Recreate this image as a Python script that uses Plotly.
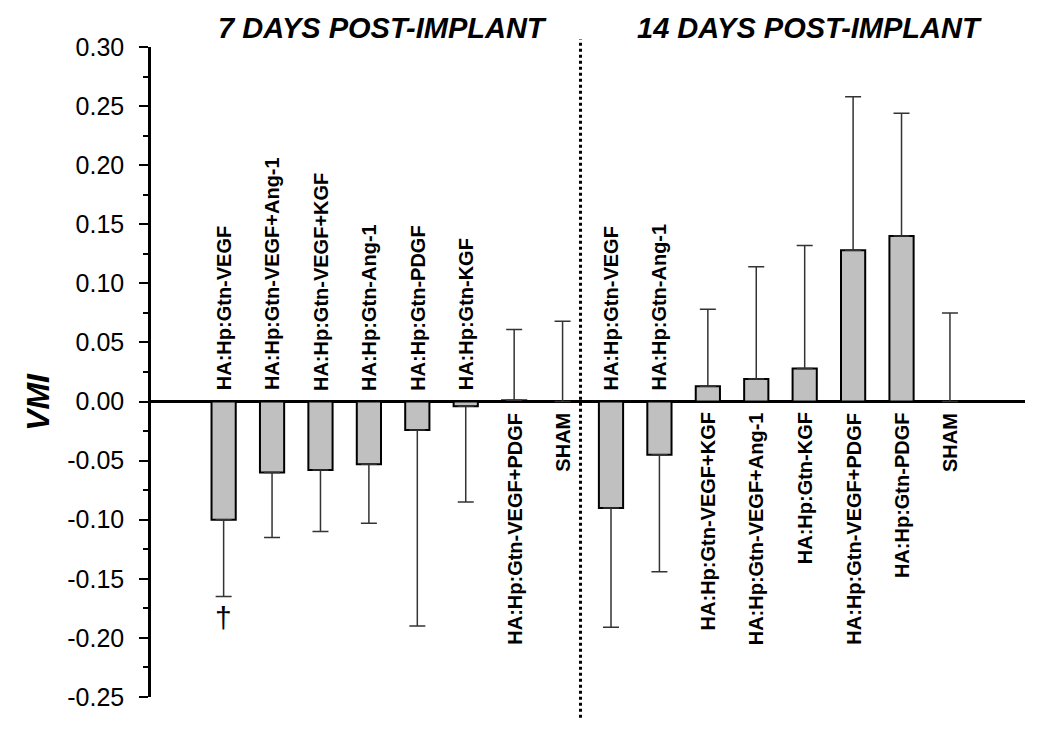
import plotly.graph_objects as go

# ---- data ----
categories_7 = ["HA:Hp:Gtn-VEGF", "HA:Hp:Gtn-VEGF+Ang-1", "HA:Hp:Gtn-VEGF+KGF", "HA:Hp:Gtn-Ang-1",
                "HA:Hp:Gtn-PDGF", "HA:Hp:Gtn-KGF", "HA:Hp:Gtn-VEGF+PDGF", "SHAM"]
values_7 = [-0.100, -0.060, -0.058, -0.053, -0.024, -0.004, 0.001, 0.0]
errors_7 = [0.065, 0.055, 0.052, 0.050, 0.166, 0.081, 0.060, 0.068]

categories_14 = ["HA:Hp:Gtn-VEGF", "HA:Hp:Gtn-Ang-1", "HA:Hp:Gtn-VEGF+KGF", "HA:Hp:Gtn-VEGF+Ang-1",
                 "HA:Hp:Gtn-KGF", "HA:Hp:Gtn-VEGF+PDGF", "HA:Hp:Gtn-PDGF", "SHAM"]
values_14 = [-0.090, -0.045, 0.013, 0.019, 0.028, 0.128, 0.140, 0.0]
errors_14 = [0.101, 0.099, 0.065, 0.095, 0.104, 0.130, 0.104, 0.075]

tick_values = [0.30, 0.25, 0.20, 0.15, 0.10, 0.05, 0.00, -0.05, -0.10, -0.15, -0.20, -0.25]
tick_labels = ["0.30", "0.25", "0.20", "0.15", "0.10", "0.05", "0.00",
               "-0.05", "-0.10", "-0.15", "-0.20", "-0.25"]
panel_titles = ["7 DAYS POST-IMPLANT", "14 DAYS POST-IMPLANT"]
significance_mark = "\u2020"

# ---- build ----
categories = categories_7 + categories_14
values = values_7 + values_14
errors = errors_7 + errors_14
xpos = list(range(len(values)))

err_plus = [e if v >= 0 else 0 for v, e in zip(values, errors)]
err_minus = [e if v < 0 else 0 for v, e in zip(values, errors)]

FONT = "Arial, Liberation Sans, Helvetica, sans-serif"

fig = go.Figure()
fig.add_trace(go.Bar(
    x=xpos, y=values, width=0.5,
    marker=dict(color="#c0c0c0", line=dict(color="black", width=2)),
    error_y=dict(type="data", symmetric=False, array=err_plus, arrayminus=err_minus,
                 color="#333333", thickness=1.5, width=8),
    showlegend=False, hoverinfo="skip",
))

annotations = []
for x, v, name in zip(xpos, values, categories):
    if v < 0:
        annotations.append(dict(x=x, y=0, xref="x", yref="y", text=name, textangle=-90,
                                showarrow=False, xanchor="center", yanchor="bottom", yshift=9,
                                font=dict(family=FONT, size=20, color="black", weight="bold")))
    else:
        annotations.append(dict(x=x, y=0, xref="x", yref="y", text=name, textangle=-90,
                                showarrow=False, xanchor="center", yanchor="top", yshift=-9,
                                font=dict(family=FONT, size=20, color="black", weight="bold")))

# dagger under first bar's error bar
annotations.append(dict(x=xpos[0], y=values[0] - errors[0], xref="x", yref="y",
                        text=significance_mark, showarrow=False, yanchor="top", yshift=-2,
                        font=dict(family=FONT, size=30, color="black")))

# panel titles
annotations.append(dict(x=0.2654, y=1.029, xref="paper", yref="paper", text="<i><b>%s</b></i>" % panel_titles[0],
                        showarrow=False, xanchor="center", yanchor="middle",
                        font=dict(family=FONT, size=29, color="black")))
annotations.append(dict(x=0.754, y=1.029, xref="paper", yref="paper", text="<i><b>%s</b></i>" % panel_titles[1],
                        showarrow=False, xanchor="center", yanchor="middle",
                        font=dict(family=FONT, size=29, color="black")))
# y title
annotations.append(dict(x=-0.130, y=0, xref="paper", yref="y", text="<i><b>VMI</b></i>", textangle=-90,
                        showarrow=False, xanchor="center", yanchor="middle",
                        font=dict(family=FONT, size=32, color="black")))

shapes = [dict(type="line", xref="x", yref="paper", x0=7.37, x1=7.37, y0=-0.032, y1=1.012,
               line=dict(color="black", width=3, dash="dot"))]

fig.update_layout(
    width=1050, height=745,
    margin=dict(l=151, r=25, t=47, b=48),
    paper_bgcolor="white", plot_bgcolor="white",
    font=dict(family=FONT, color="black"),
    annotations=annotations, shapes=shapes,
    xaxis=dict(range=[-1.5, 16.55], showticklabels=False, showgrid=False, zeroline=False,
               showline=False, ticks=""),
    yaxis=dict(range=[-0.25, 0.30], tickvals=tick_values, ticktext=tick_labels,
               showgrid=False, zeroline=True, zerolinecolor="black", zerolinewidth=2.5,
               showline=True, linecolor="black", linewidth=2.5,
               ticks="outside", ticklen=9, tickwidth=2, tickcolor="black",
               ticklabelstandoff=10,
               tickfont=dict(family=FONT, size=25, color="black"),
               minor=dict(dtick=0.025, tick0=0, ticks="outside", ticklen=5, tickwidth=2,
                          tickcolor="black", showgrid=False)),
    bargap=0.5,
)

fig.write_html("out.html", config={"displayModeBar": False},
               post_script="document.body.style.margin='0';")
